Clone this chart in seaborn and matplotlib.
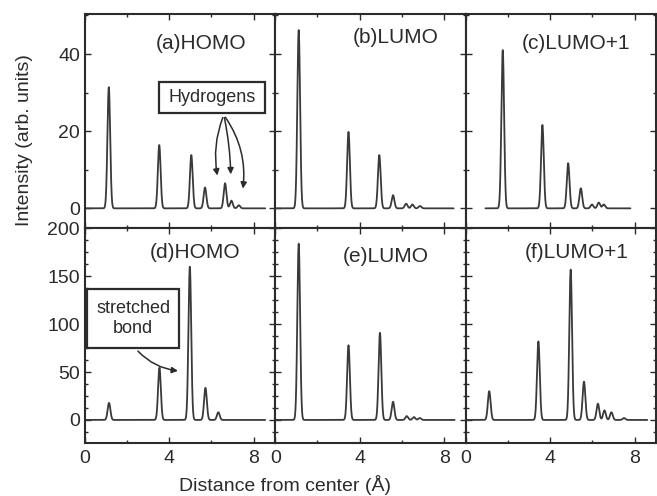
import numpy as np
import pandas as pd
import matplotlib
matplotlib.use("Agg")
import matplotlib.pyplot as plt
import seaborn as sns
from matplotlib.ticker import MultipleLocator
from matplotlib.patches import Rectangle

# ---- peak centres (Angstrom) and heights (arb. units) ---- #
a_pos = [1.14, 3.53, 5.05, 5.70, 6.65, 6.95, 7.30]
a_hgt = [31.4, 16.4, 13.8, 5.4, 6.5, 2.0, 0.8]

b_pos = [1.11, 3.47, 4.93, 5.58, 6.20, 6.50, 6.86]
b_hgt = [46.2, 19.8, 13.8, 3.4, 1.2, 1.0, 0.6]

c_pos = [1.75, 3.63, 4.85, 5.45, 5.98, 6.30, 6.54]
c_hgt = [41.0, 21.6, 11.7, 5.2, 1.0, 1.5, 1.0]

d_pos = [1.15, 3.54, 4.98, 5.72, 6.33]
d_hgt = [17.8, 54.5, 160.0, 33.5, 8.0]

e_pos = [1.11, 3.47, 4.96, 5.58, 6.23, 6.57, 6.85]
e_hgt = [184.0, 78.0, 91.0, 19.0, 4.0, 3.0, 2.0]

f_pos = [1.11, 3.44, 4.97, 5.60, 6.26, 6.57, 6.90, 7.50]
f_hgt = [30.0, 82.0, 157.0, 40.0, 17.0, 10.0, 8.0, 2.0]

# where each trace starts / stops along x
trace_start = [0.0, 0.0, 0.93, 0.0, 0.0, 0.05]
trace_end = [8.55, 8.45, 7.80, 8.55, 8.50, 8.60]

panel_labels = ["(a)HOMO", "(b)LUMO", "(c)LUMO+1", "(d)HOMO", "(e)LUMO", "(f)LUMO+1"]
x_ticks = [0, 4, 8]
top_yticks = [0, 20, 40]
bottom_yticks = [0, 50, 100, 150, 200]

peak_sigma = 0.065
ink = "#2b2b2b"
line_col = "#3a3a3a"


def build_trace(pos, hgt, x0, x1):
    x = np.linspace(x0, x1, 3000)
    y = np.zeros_like(x)
    for p, h in zip(pos, hgt):
        y += h * np.exp(-((x - p) ** 2) / (2 * peak_sigma ** 2))
    return pd.DataFrame({"distance": x, "intensity": y})


sns.set_theme(style="ticks")
plt.rcParams["font.family"] = ["Liberation Sans", "DejaVu Sans"]
plt.rcParams["text.color"] = ink
plt.rcParams["axes.edgecolor"] = ink
plt.rcParams["xtick.color"] = ink
plt.rcParams["ytick.color"] = ink

fig, axes = plt.subplots(2, 3, figsize=(6.57, 4.96), dpi=100, sharex=True)
fig.subplots_adjust(left=0.129, right=0.999, top=0.972, bottom=0.107,
                    wspace=0, hspace=0)

series = [(a_pos, a_hgt), (b_pos, b_hgt), (c_pos, c_hgt),
          (d_pos, d_hgt), (e_pos, e_hgt), (f_pos, f_hgt)]
label_xy = [(0.61, 0.864), (0.63, 0.888), (0.577, 0.864),
            (0.58, 0.89), (0.58, 0.867), (0.58, 0.89)]

for i, ax in enumerate(axes.flat):
    pos, hgt = series[i]
    df = build_trace(pos, hgt, trace_start[i], trace_end[i])
    sns.lineplot(data=df, x="distance", y="intensity", ax=ax,
                 color=line_col, lw=1.3, sort=False)
    ax.set_xlim(0, 9.03)
    if i < 3:
        ax.set_ylim(-5.2, 50.4)
        ax.yaxis.set_major_locator(MultipleLocator(20))
        ax.yaxis.set_minor_locator(MultipleLocator(10))
    else:
        ax.set_ylim(-24, 200)
        ax.yaxis.set_major_locator(MultipleLocator(50))
        ax.yaxis.set_minor_locator(MultipleLocator(12.5))
    ax.set_xticks(x_ticks)
    ax.xaxis.set_minor_locator(MultipleLocator(2))
    ax.tick_params(which="both", direction="in", top=True, right=True,
                   labelsize=14, width=1.0)
    ax.tick_params(which="major", length=4)
    ax.tick_params(which="minor", length=2.5)
    for sp in ax.spines.values():
        sp.set_linewidth(1.5)
        sp.set_color(ink)
    ax.set_xlabel("")
    ax.set_ylabel("")
    if i % 3 != 0:
        ax.tick_params(labelleft=False)
    lx, ly = label_xy[i]
    ax.text(lx, ly, panel_labels[i], transform=ax.transAxes, ha="center",
            va="center", fontsize=15)

axes[0, 0].set_yticks(top_yticks)
axes[1, 0].set_yticks(bottom_yticks)
for ax in axes[1]:
    ax.tick_params(axis="x", pad=5)

# ---- annotations ---- #
ax_a = axes[0, 0]
ax_a.add_patch(Rectangle((3.53, 24.7), 5.03, 8.0, fill=True, facecolor="white",
                         edgecolor=ink, lw=1.6, zorder=4))
ax_a.text(6.05, 28.7, "Hydrogens", ha="center", va="center", fontsize=13, zorder=5)
arrow_tips = [(6.31, 7.8, 0.15), (6.92, 8.1, -0.05), (7.48, 4.4, -0.2)]
for tx, ty, rad in arrow_tips:
    ax_a.annotate("", xy=(tx, ty), xytext=(6.59, 24.2),
                  arrowprops=dict(arrowstyle="-|>", color=ink, lw=1.1,
                                  mutation_scale=9,
                                  connectionstyle=f"arc3,rad={rad}"))

ax_d = axes[1, 0]
ax_d.add_patch(Rectangle((0.1, 75), 4.37, 62, fill=True, facecolor="white",
                         edgecolor=ink, lw=1.6, zorder=4))
ax_d.text(2.3, 106, "stretched\nbond", ha="center", va="center", fontsize=13,
          linespacing=1.2, zorder=5)
ax_d.annotate("", xy=(4.55, 51), xytext=(2.43, 74),
              arrowprops=dict(arrowstyle="-|>", color=ink, lw=1.1,
                              mutation_scale=9,
                              connectionstyle="arc3,rad=0.2"))

fig.text(0.038, 0.718, "Intensity (arb. units)", rotation=90, ha="center",
         va="center", fontsize=14)
fig.text(0.434, 0.022, "Distance from center (\u00c5)", ha="center",
         va="center", fontsize=14)

fig.savefig("out.png", dpi=100, facecolor="white")
